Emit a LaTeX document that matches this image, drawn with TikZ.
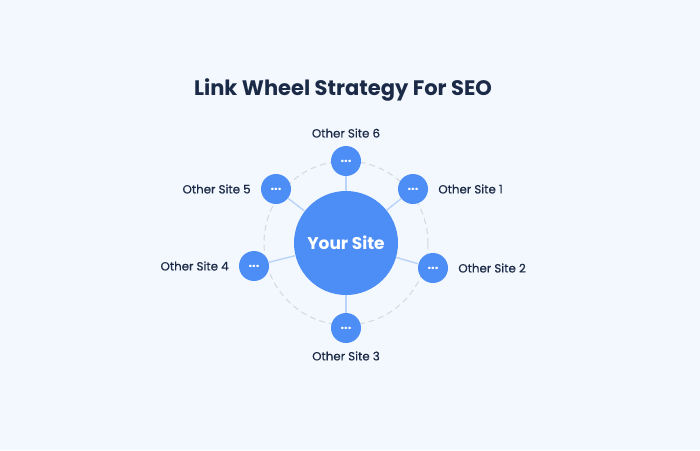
\documentclass[tikz,border=0pt]{standalone}
\usepackage{fontspec}
\setmainfont{Poppins}
\newfontfamily\labelFont[BoldFont=Poppins, BoldFeatures={FakeBold=0.6}]{Poppins}
\usetikzlibrary{positioning}
\definecolor{bgBlue}{HTML}{F3F8FE}
\definecolor{siteBlue}{HTML}{4C8DF6}
\definecolor{spokeBlue}{HTML}{B9D3F9}
\definecolor{wheelGray}{HTML}{D3D9E1}
\definecolor{navy}{HTML}{1B2A47}
\tikzset{%
	% Specifications for style of nodes:
	hub/.style = {circle, fill=siteBlue, minimum size=104pt, inner sep=0pt,
		text=white, font=\fontsize{17pt}{20pt}\selectfont\bfseries},
	site/.style = {circle, fill=siteBlue, minimum size=30pt, inner sep=0pt,
		text=white, font=\fontsize{13pt}{14pt}\selectfont\bfseries},
	siteLabel/.style = {text=navy, inner sep=0pt, font=\fontsize{11.8pt}{13pt}\selectfont\labelFont\bfseries},
	spoke/.style = {draw=spokeBlue, line width=1.4pt}
}
\begin{document}
\begin{tikzpicture}[x=1pt, y=-1pt]
		\fill[bgBlue] (0,0) rectangle (700,450);
		\node [text=navy, font=\fontsize{21pt}{24pt}\selectfont\bfseries] (title) at (343,90) {Link Wheel Strategy For SEO};
		%% wheel
		\draw[wheelGray, line width=1pt, dash pattern=on 6pt off 4pt] (346,243) circle (82);
		\node [hub] (you) at (346,243) {Your Site};
		\node [site] (s1) at (413,189) {\raisebox{-2.5pt}{...}};
		\node [site] (s2) at (433,268) {\raisebox{-2.5pt}{...}};
		\node [site] (s3) at (346,328) {\raisebox{-2.5pt}{...}};
		\node [site] (s4) at (254,266) {\raisebox{-2.5pt}{...}};
		\node [site] (s5) at (276,189) {\raisebox{-2.5pt}{...}};
		\node [site] (s6) at (346,161) {\raisebox{-2.5pt}{...}};
		\foreach \s in {s1,s2,s3,s4,s5,s6}
			\draw[spoke] (you) -- (\s);
		%% labels
		\node [siteLabel, right=10pt of s1] (l1) {Other Site 1};
		\node [siteLabel, right=10pt of s2] (l2) {Other Site 2};
		\node [siteLabel, below=8pt of s3] (l3) {Other Site 3};
		\node [siteLabel, left=10pt of s4] (l4) {Other Site 4};
		\node [siteLabel, left=10pt of s5] (l5) {Other Site 5};
		\node [siteLabel, above=8pt of s6] (l6) {Other Site 6};
\end{tikzpicture}
\end{document}
